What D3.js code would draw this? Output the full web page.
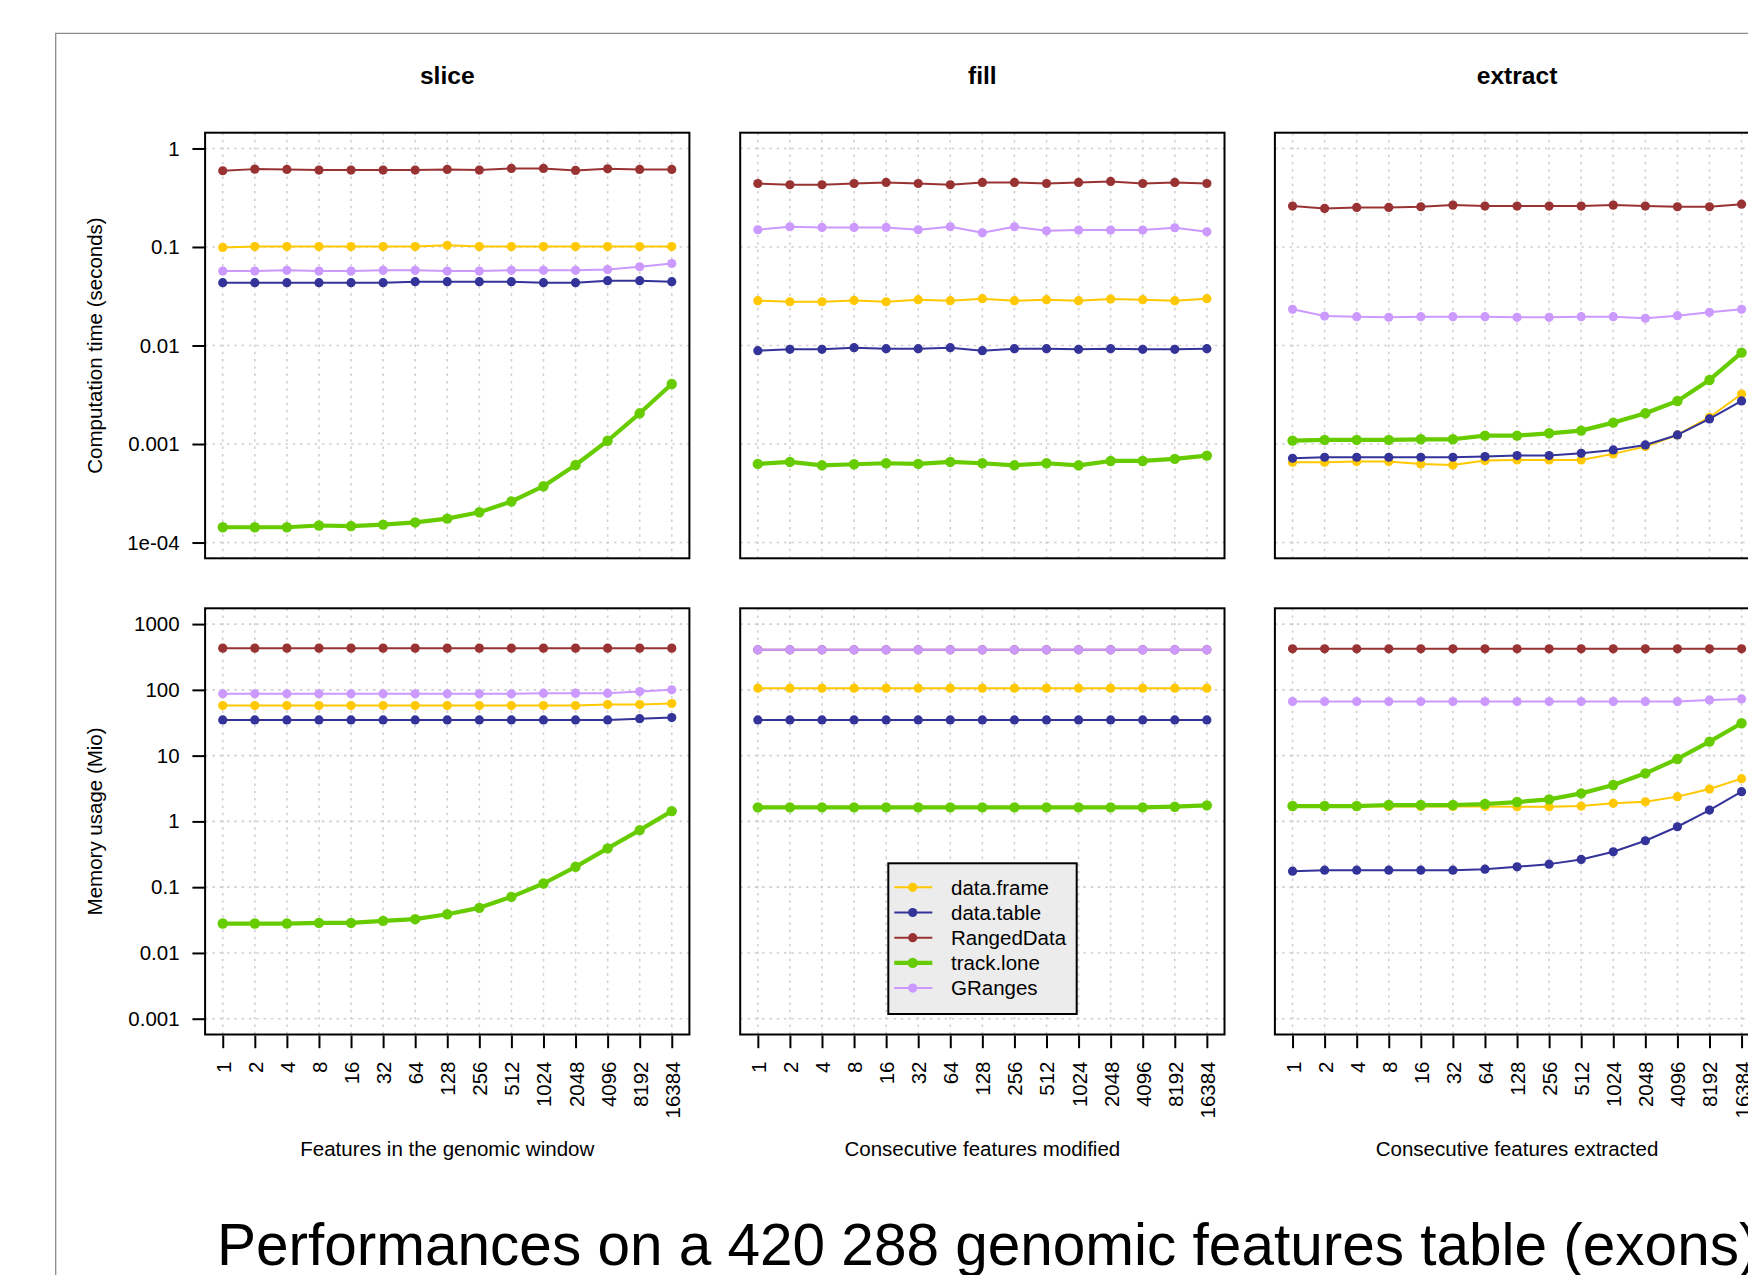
<!DOCTYPE html>
<html><head><meta charset="utf-8">
<script src="https://cdn.jsdelivr.net/npm/d3@7"></script>
<style>
body{margin:0;background:#fff;overflow:hidden}
svg{display:block}
text{font-family:"Liberation Sans",Arial,sans-serif;fill:#000}
</style>
</head><body>
<svg id="chart" width="1748" height="1275"></svg>
<script>
// ---------- labels ----------
const xLabels = ["1","2","4","8","16","32","64","128","256","512","1024","2048","4096","8192","16384"];
const seriesNames = ["data.frame","data.table","RangedData","track.lone","GRanges"];
const seriesColors = ["#FFC800","#333399","#993333","#66CC00","#CC99FF"];
const panelTitles = ["slice","fill","extract"];
const xAxisTitles = ["Features in the genomic window","Consecutive features modified","Consecutive features extracted"];
const rowTitles = ["Computation time (seconds)","Memory usage (Mio)"];
const timeTickValues = [1,0.1,0.01,0.001,0.0001];
const timeTickLabels = ["1","0.1","0.01","0.001","1e-04"];
const memTickValues = [1000,100,10,1,0.1,0.01,0.001];
const memTickLabels = ["1000","100","10","1","0.1","0.01","0.001"];
const mainTitle = "Performances on a 420 288 genomic features table (exons)";

// ---------- computation time (seconds) ----------
const sliceTimeDataFrame  = [0.099,0.101,0.101,0.101,0.101,0.101,0.101,0.104,0.101,0.101,0.101,0.101,0.101,0.101,0.101];
const sliceTimeDataTable  = [0.0434,0.0434,0.0434,0.0434,0.0434,0.0434,0.0444,0.0444,0.0444,0.0444,0.0434,0.0434,0.0455,0.0455,0.0444];
const sliceTimeRangedData = [0.594,0.617,0.612,0.603,0.603,0.603,0.603,0.612,0.603,0.627,0.627,0.598,0.622,0.612,0.612];
const sliceTimeTrackLone  = [1.43e-4,1.43e-4,1.43e-4,1.49e-4,1.47e-4,1.52e-4,1.60e-4,1.75e-4,2.03e-4,2.61e-4,3.73e-4,6.13e-4,1.08e-3,2.05e-3,4.07e-3];
const sliceTimeGRanges    = [0.057,0.057,0.058,0.057,0.057,0.058,0.058,0.057,0.057,0.058,0.058,0.058,0.059,0.063,0.068];

const fillTimeDataFrame  = [0.0285,0.0278,0.0278,0.0287,0.0278,0.0292,0.0285,0.0299,0.0285,0.0292,0.0285,0.0296,0.0292,0.0285,0.0299];
const fillTimeDataTable  = [0.00887,0.00915,0.00915,0.00951,0.00929,0.00929,0.00951,0.00887,0.00929,0.00929,0.00915,0.00929,0.00915,0.00915,0.00929];
const fillTimeRangedData = [0.441,0.428,0.428,0.441,0.452,0.441,0.428,0.452,0.452,0.441,0.452,0.463,0.441,0.452,0.441];
const fillTimeTrackLone  = [6.28e-4,6.58e-4,6.08e-4,6.23e-4,6.38e-4,6.28e-4,6.58e-4,6.38e-4,6.08e-4,6.38e-4,6.08e-4,6.73e-4,6.73e-4,7.06e-4,7.63e-4];
const fillTimeGRanges    = [0.1496,0.1605,0.158,0.158,0.158,0.1496,0.1605,0.1395,0.1605,0.146,0.1485,0.1485,0.1485,0.1567,0.1428];

const extractTimeDataFrame  = [6.53e-4,6.53e-4,6.64e-4,6.64e-4,6.28e-4,6.13e-4,6.79e-4,6.90e-4,6.90e-4,6.90e-4,7.94e-4,9.41e-4,1.236e-3,1.87e-3,3.22e-3];
const extractTimeDataTable  = [7.17e-4,7.34e-4,7.34e-4,7.34e-4,7.34e-4,7.34e-4,7.45e-4,7.63e-4,7.63e-4,8.05e-4,8.71e-4,9.79e-4,1.236e-3,1.796e-3,2.735e-3];
const extractTimeRangedData = [0.260,0.246,0.252,0.252,0.256,0.266,0.260,0.260,0.260,0.260,0.266,0.260,0.256,0.256,0.272];
const extractTimeTrackLone  = [1.083e-3,1.10e-3,1.10e-3,1.10e-3,1.117e-3,1.117e-3,1.217e-3,1.217e-3,1.285e-3,1.368e-3,1.649e-3,2.05e-3,2.735e-3,4.47e-3,8.46e-3];
const extractTimeGRanges    = [0.0233,0.0199,0.0196,0.0193,0.0196,0.0196,0.0196,0.0193,0.0193,0.0196,0.0196,0.0189,0.0201,0.0217,0.0233];

// ---------- memory usage (Mio) ----------
const sliceMemDataFrame  = [57.7,57.7,57.7,57.7,57.7,57.7,57.7,57.7,57.7,57.7,57.7,57.7,59.8,59.8,62];
const sliceMemDataTable  = [34.9,34.9,34.9,34.9,34.9,34.9,34.9,34.9,34.9,34.9,34.9,34.9,34.9,36.5,37.9];
const sliceMemRangedData = [431,431,431,431,431,431,431,431,431,431,431,431,431,431,431];
const sliceMemTrackLone  = [0.028,0.028,0.028,0.0286,0.0286,0.0307,0.0326,0.0388,0.0485,0.0713,0.1137,0.204,0.388,0.738,1.435];
const sliceMemGRanges    = [86.9,86.9,86.9,86.9,86.9,86.9,86.9,86.9,86.9,86.9,88.9,88.9,88.9,94.3,100];

const fillMemDataFrame  = [106,106,106,106,106,106,106,106,106,106,106,106,106,106,106];
const fillMemDataTable  = [34.9,34.9,34.9,34.9,34.9,34.9,34.9,34.9,34.9,34.9,34.9,34.9,34.9,34.9,34.9];
const fillMemRangedData = [406,406,406,406,406,406,406,406,406,406,406,406,406,406,406];
const fillMemTrackLone  = [1.634,1.634,1.634,1.634,1.634,1.634,1.634,1.634,1.634,1.634,1.634,1.634,1.634,1.673,1.753];
const fillMemGRanges    = [406,406,406,406,406,406,406,406,406,406,406,406,406,406,406];

const extractMemDataFrame  = [1.70,1.70,1.70,1.69,1.69,1.69,1.68,1.67,1.67,1.71,1.88,1.99,2.38,3.11,4.47];
const extractMemDataTable  = [0.1753,0.1815,0.1815,0.1815,0.1815,0.1815,0.188,0.204,0.224,0.264,0.345,0.508,0.829,1.488,2.83];
const extractMemRangedData = [421,421,421,421,421,421,421,421,421,421,421,421,421,421,421];
const extractMemTrackLone  = [1.712,1.712,1.712,1.774,1.774,1.774,1.837,1.97,2.16,2.67,3.57,5.38,8.90,16.3,31.1];
const extractMemGRanges    = [66.4,66.4,66.4,66.4,66.4,66.4,66.4,66.4,66.4,66.4,66.4,66.4,66.4,70.4,72.9];

// ---------- assemble ----------
const rowsData = [
  [ [sliceTimeDataFrame,sliceTimeDataTable,sliceTimeRangedData,sliceTimeTrackLone,sliceTimeGRanges],
    [fillTimeDataFrame,fillTimeDataTable,fillTimeRangedData,fillTimeTrackLone,fillTimeGRanges],
    [extractTimeDataFrame,extractTimeDataTable,extractTimeRangedData,extractTimeTrackLone,extractTimeGRanges] ],
  [ [sliceMemDataFrame,sliceMemDataTable,sliceMemRangedData,sliceMemTrackLone,sliceMemGRanges],
    [fillMemDataFrame,fillMemDataTable,fillMemRangedData,fillMemTrackLone,fillMemGRanges],
    [extractMemDataFrame,extractMemDataTable,extractMemRangedData,extractMemTrackLone,extractMemGRanges] ]
];
const rowTicks = [[timeTickValues,timeTickLabels],[memTickValues,memTickLabels]];

// ---------- layout ----------
const svg = d3.select("#chart");
const colLeft = [205.1, 740.2, 1274.9];
const panelW = 484.3;
const rowTop = [132.7, 608.3];
const panelH = [425.6, 426.2];
const tickFont = 20.5;
const tickLen = 12.7;

// outer frame
svg.append("path").attr("d","M55.7,1280V33.3H1760")
  .attr("fill","none").attr("stroke","#8c8c8c").attr("stroke-width",1.3);

const x = d3.scalePoint().domain(xLabels).range([0, panelW]).padding(0.55);

function yScale(r){
  const [vals] = rowTicks[r];
  const lo = Math.log10(d3.min(vals)), hi = Math.log10(d3.max(vals));
  const ext = (hi - lo) * 0.04;
  return d3.scaleLog().domain([Math.pow(10, lo - ext), Math.pow(10, hi + ext)]).range([panelH[r], 0]);
}

const lineW = [2, 2, 2, 4.2, 2];
const ptR = [4.6, 4.6, 4.6, 5.2, 4.6];

for (let r = 0; r < 2; r++) {
  const y = yScale(r);
  const [tv, tl] = rowTicks[r];
  for (let c = 0; c < 3; c++) {
    const g = svg.append("g").attr("transform", `translate(${colLeft[c]},${rowTop[r]})`);
    const grid = g.append("g").attr("stroke","#d0d0d0").attr("stroke-width",1.6).attr("stroke-dasharray","2.5,4.8");
    grid.selectAll(".hg").data(tv).enter().append("line")
      .attr("x1",0).attr("x2",panelW).attr("y1",d=>y(d)).attr("y2",d=>y(d));
    grid.selectAll(".vg").data(xLabels).enter().append("line")
      .attr("y1",0).attr("y2",panelH[r]).attr("x1",d=>x(d)).attr("x2",d=>x(d));

    const series = rowsData[r][c];
    series.forEach((vals, s) => {
      const pts = vals.map((v,i)=>[x(xLabels[i]), y(v)]);
      g.append("path").attr("d", d3.line()(pts)).attr("fill","none")
        .attr("stroke", seriesColors[s]).attr("stroke-width", lineW[s]).attr("stroke-linejoin","round");
      g.selectAll(null).data(vals).enter().append("circle")
        .attr("cx",(d,i)=>x(xLabels[i])).attr("cy",d=>y(d)).attr("r",ptR[s]).attr("fill",seriesColors[s]);
    });

    g.append("rect").attr("x",0).attr("y",0).attr("width",panelW).attr("height",panelH[r])
      .attr("fill","none").attr("stroke","#000").attr("stroke-width",2);

    // y axis on left column
    if (c === 0) {
      const ax = d3.axisLeft(y).tickValues(tv).tickFormat((d,i)=>tl[i]).tickSize(tickLen).tickPadding(12.8);
      const axg = g.append("g").call(ax);
      axg.select(".domain").remove();
      axg.selectAll("line").attr("stroke","#000").attr("stroke-width",2);
      axg.selectAll("text").attr("font-size",tickFont).attr("font-family","Liberation Sans, Arial, sans-serif").attr("fill","#000");
    }
    // x axis on bottom row
    if (r === 1) {
      const ax = d3.axisBottom(x).tickSize(tickLen).tickPadding(0);
      const axg = g.append("g").attr("transform",`translate(0,${panelH[r]+1})`).call(ax);
      axg.select(".domain").remove();
      axg.selectAll("line").attr("stroke","#000").attr("stroke-width",2);
      axg.selectAll("text").attr("font-size",tickFont).attr("font-family","Liberation Sans, Arial, sans-serif")
        .attr("fill","#000").attr("text-anchor","end").attr("dy",null).attr("y",null)
        .attr("dominant-baseline","central")
        .attr("transform","translate(0,26) rotate(-90)");
      svg.append("text").attr("x", colLeft[c] + panelW/2).attr("y", 1156)
        .attr("text-anchor","middle").attr("font-size",tickFont).text(xAxisTitles[c]);
    }
    // panel titles
    if (r === 0) {
      svg.append("text").attr("x", colLeft[c] + panelW/2).attr("y", 84)
        .attr("text-anchor","middle").attr("font-size",24.6).attr("font-weight","bold").text(panelTitles[c]);
    }
  }
  // row title
  const cy = rowTop[r] + panelH[r]/2;
  svg.append("text").attr("transform",`translate(101.5,${cy}) rotate(-90)`)
    .attr("text-anchor","middle").attr("font-size",tickFont).text(rowTitles[r]);
}

// legend in fill memory panel
const lg = svg.append("g").attr("transform","translate(888.3,863.3)");
lg.append("rect").attr("width",188.4).attr("height",150.7).attr("fill","#ececec").attr("stroke","#000").attr("stroke-width",2);
seriesNames.forEach((name, s) => {
  const yy = 24 + s * 25.2;
  lg.append("line").attr("x1",6).attr("x2",44).attr("y1",yy).attr("y2",yy)
    .attr("stroke",seriesColors[s]).attr("stroke-width",lineW[s]);
  lg.append("circle").attr("cx",24.4).attr("cy",yy).attr("r",ptR[s]).attr("fill",seriesColors[s]);
  lg.append("text").attr("x",62.7).attr("y",yy).attr("dy","0.36em").attr("font-size",tickFont).text(name);
});

// main title
svg.append("text").attr("x",217).attr("y",1265).attr("font-size",58.5).text(mainTitle);
</script>
</body></html>
